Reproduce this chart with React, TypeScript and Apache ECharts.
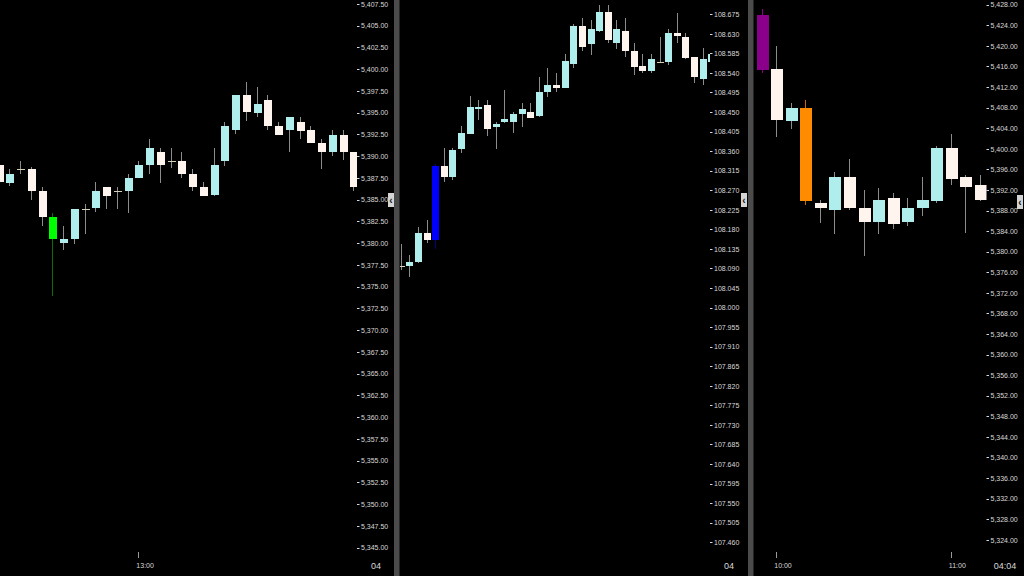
import React, { useEffect, useRef } from "react";
import * as echarts from "echarts";

// ---------------- DATA ----------------
// Panel 1 (2-minute bars)
const p1Times = [
  "12:34", "12:36", "12:38", "12:40", "12:42", "12:44", "12:46", "12:48", "12:50", "12:52",
  "12:54", "12:56", "12:58", "13:00", "13:02", "13:04", "13:06", "13:08", "13:10", "13:12",
  "13:14", "13:16", "13:18", "13:20", "13:22", "13:24", "13:26", "13:28", "13:30", "13:32",
  "13:34", "13:36", "13:38", "13:40",
];
// [open, close, low, high]
const p1Candles = [
  [5389.0, 5387.0, 5386.75, 5389.25],
  [5387.0, 5388.0, 5386.5, 5388.5],
  [5388.5, 5388.5, 5388.0, 5389.5],
  [5388.5, 5386.0, 5385.0, 5388.75],
  [5386.0, 5383.0, 5382.0, 5386.5],
  [5383.0, 5380.5, 5374.0, 5383.5],
  [5380.0, 5380.5, 5379.25, 5382.0],
  [5380.5, 5384.0, 5380.0, 5384.0],
  [5384.0, 5384.0, 5381.0, 5384.5],
  [5384.0, 5386.0, 5383.5, 5387.0],
  [5386.5, 5385.5, 5384.0, 5386.5],
  [5386.0, 5386.0, 5384.0, 5386.5],
  [5386.0, 5387.5, 5383.5, 5388.0],
  [5387.5, 5389.0, 5387.5, 5389.5],
  [5389.0, 5391.0, 5388.0, 5392.0],
  [5390.5, 5389.0, 5387.0, 5391.0],
  [5389.5, 5389.5, 5388.75, 5391.0],
  [5389.5, 5388.0, 5387.5, 5390.5],
  [5388.0, 5386.5, 5386.0, 5388.5],
  [5386.5, 5385.5, 5385.5, 5387.0],
  [5385.5, 5389.0, 5385.5, 5391.0],
  [5389.5, 5393.5, 5389.0, 5394.0],
  [5393.0, 5397.0, 5392.5, 5397.0],
  [5397.0, 5395.0, 5394.0, 5398.5],
  [5395.0, 5396.0, 5394.5, 5398.0],
  [5396.5, 5393.5, 5393.0, 5397.0],
  [5393.5, 5392.5, 5392.5, 5394.0],
  [5393.0, 5394.5, 5390.5, 5394.5],
  [5394.0, 5393.0, 5392.0, 5394.5],
  [5393.0, 5391.5, 5391.5, 5393.5],
  [5391.5, 5390.5, 5388.5, 5392.0],
  [5390.5, 5392.5, 5390.0, 5393.0],
  [5392.5, 5390.5, 5389.5, 5393.0],
  [5390.5, 5386.5, 5386.0, 5390.5],
];
const p1Price = 5390;
const p1Ticks = [
  5345, 5347.5, 5350, 5352.5, 5355, 5357.5, 5360, 5362.5, 5365, 5367.5, 5370, 5372.5, 5375,
  5377.5, 5380, 5382.5, 5385, 5387.5, 5390, 5392.5, 5395, 5397.5, 5400, 5402.5, 5405, 5407.5,
];

// Panel 2 (1-minute bars)
const p2Times = [
  "03:20", "03:21", "03:22", "03:23", "03:24", "03:25", "03:26", "03:27", "03:28", "03:29",
  "03:30", "03:31", "03:32", "03:33", "03:34", "03:35", "03:36", "03:37", "03:38", "03:39",
  "03:40", "03:41", "03:42", "03:43", "03:44", "03:45", "03:46", "03:47", "03:48", "03:49",
  "03:50", "03:51", "03:52", "03:53", "03:54", "03:55", "03:56",
];
const p2Candles = [
  [108.096, 108.096, 108.087, 108.147],
  [108.096, 108.105, 108.071, 108.121],
  [108.105, 108.172, 108.103, 108.186],
  [108.172, 108.156, 108.149, 108.202],
  [108.156, 108.326, 108.135, 108.331],
  [108.326, 108.301, 108.29, 108.368],
  [108.301, 108.363, 108.294, 108.368],
  [108.365, 108.402, 108.356, 108.418],
  [108.4, 108.462, 108.4, 108.487],
  [108.458, 108.462, 108.432, 108.478],
  [108.467, 108.411, 108.395, 108.478],
  [108.416, 108.423, 108.365, 108.428],
  [108.428, 108.434, 108.425, 108.501],
  [108.428, 108.446, 108.402, 108.451],
  [108.446, 108.458, 108.416, 108.471],
  [108.451, 108.437, 108.437, 108.471],
  [108.441, 108.497, 108.44, 108.531],
  [108.497, 108.513, 108.485, 108.552],
  [108.513, 108.506, 108.497, 108.54],
  [108.506, 108.568, 108.505, 108.584],
  [108.561, 108.649, 108.552, 108.653],
  [108.649, 108.6, 108.591, 108.667],
  [108.607, 108.642, 108.582, 108.662],
  [108.637, 108.681, 108.636, 108.697],
  [108.681, 108.616, 108.609, 108.697],
  [108.609, 108.642, 108.596, 108.662],
  [108.637, 108.591, 108.577, 108.667],
  [108.591, 108.554, 108.536, 108.609],
  [108.556, 108.545, 108.54, 108.584],
  [108.545, 108.573, 108.54, 108.584],
  [108.566, 108.566, 108.565, 108.623],
  [108.566, 108.632, 108.559, 108.642],
  [108.632, 108.626, 108.609, 108.678],
  [108.623, 108.575, 108.573, 108.632],
  [108.577, 108.531, 108.517, 108.577],
  [108.527, 108.573, 108.513, 108.598],
  [108.566, 108.584, 108.566, 108.589],
];
const p2Ticks = [
  107.46, 107.505, 107.55, 107.595, 107.64, 107.685, 107.73, 107.775, 107.82, 107.865,
  107.91, 107.955, 108.0, 108.045, 108.09, 108.135, 108.18, 108.225, 108.27, 108.315,
  108.36, 108.405, 108.45, 108.495, 108.54, 108.585, 108.63, 108.675,
];

// Panel 3 (5-minute bars)
const p3Times = [
  "09:55", "10:00", "10:05", "10:10", "10:15", "10:20", "10:25", "10:30",
  "10:35", "10:40", "10:45", "10:50", "10:55", "11:00", "11:05", "11:10",
];
const p3Candles = [
  [5426.0, 5415.25, 5414.75, 5427.25],
  [5415.5, 5405.5, 5402.25, 5420.0],
  [5405.5, 5408.0, 5404.0, 5409.0],
  [5408.0, 5390.0, 5389.0, 5409.5],
  [5389.5, 5388.5, 5385.5, 5390.0],
  [5388.0, 5394.5, 5383.5, 5395.5],
  [5394.5, 5388.5, 5388.0, 5398.0],
  [5388.5, 5385.75, 5379.25, 5392.0],
  [5385.75, 5390.0, 5383.5, 5392.5],
  [5390.5, 5385.5, 5384.5, 5391.5],
  [5385.75, 5388.5, 5385.0, 5390.5],
  [5388.5, 5390.0, 5387.0, 5394.5],
  [5390.0, 5400.25, 5389.5, 5400.5],
  [5400.25, 5394.25, 5393.0, 5403.0],
  [5394.5, 5392.5, 5383.75, 5395.0],
  [5393.0, 5390.0, 5390.0, 5395.0],
];
const p3Price = 5390;
const p3Ticks = [
  5324, 5328, 5332, 5336, 5340, 5344, 5348, 5352, 5356, 5360, 5364, 5368, 5372, 5376,
  5380, 5384, 5388, 5392, 5396, 5400, 5404, 5408, 5412, 5416, 5420, 5424, 5428,
];

// Date markers at bottom-right of each panel
const dateLabels = ["04", "04", "04:04"];

// ---------------- STYLE ----------------
const FONT = "'Liberation Sans', Arial, sans-serif";
const LABEL = "#d8d8d8";
const UP = "#b0eeee";
const DOWN = "#fff4ee";
const DOJI = "#d6d0b4";
const WICK = "#8c8c8c";
const PRICE_BG = "#db5309";
const AXIS_FS = 7;

type Special = { index: number; body: string; wick: string };
const specials1: Special[] = [{ index: 5, body: "#00ff00", wick: "#0b6e0b" }];
const specials2: Special[] = [{ index: 4, body: "#0000ff", wick: "#000080" }];
const specials3: Special[] = [
  { index: 0, body: "#8b008b", wick: "#8b008b" },
  { index: 3, body: "#ff8c00", wick: "#c86a00" },
];

const fmt2 = (v: number) => {
  const s = v.toFixed(2);
  const [a, b] = s.split(".");
  return a.replace(/\B(?=(\d{3})+(?!\d))/g, ",") + "." + b;
};
const fmt3 = (v: number) => v.toFixed(3);

const hourIdx = (times: string[]) =>
  times.map((t, i) => (t.endsWith(":00") ? i : -1)).filter((i) => i >= 0);

const toData = (c: number[][]) => c.map((d, i) => [i, d[0], d[1], d[2], d[3]]);

function makeRenderItem(ratio: number, specials: Special[]) {
  return (params: any, api: any) => {
    const i = api.value(0);
    const o = api.value(1);
    const c = api.value(2);
    const lo = api.value(3);
    const hi = api.value(4);
    const pO = api.coord([i, o]);
    const pC = api.coord([i, c]);
    const pL = api.coord([i, lo]);
    const pH = api.coord([i, hi]);
    const bw = Math.max(1, Math.round(api.size([1, 0])[0] * ratio));
    const cx = Math.round(pO[0]);
    const sp = specials.find((s) => s.index === params.dataIndex);
    const bodyColor = sp ? sp.body : c > o ? UP : c < o ? DOWN : DOJI;
    const wickColor = sp ? sp.wick : WICK;
    const cs = params.coordSys;
    const area = { x: cs.x, y: cs.y, width: cs.width, height: cs.height };
    const top = Math.round(Math.min(pO[1], pC[1]));
    const h = Math.max(1, Math.round(Math.abs(pO[1] - pC[1])));
    const body = echarts.graphic.clipRectByRect(
      { x: cx - Math.floor((bw - 1) / 2), y: top, width: bw, height: h },
      area
    );
    const wick = echarts.graphic.clipRectByRect(
      { x: cx, y: Math.round(pH[1]), width: 1, height: Math.max(1, Math.round(pL[1] - pH[1])) },
      area
    );
    const children: any[] = [];
    if (wick) children.push({ type: "rect", shape: wick, style: { fill: wickColor } });
    if (body) children.push({ type: "rect", shape: body, style: { fill: bodyColor } });
    return { type: "group", children };
  };
}

function priceLine(price: number, padding: number[]) {
  return {
    silent: true,
    symbol: "none",
    lineStyle: { opacity: 0 },
    label: {
      show: true,
      position: "end",
      distance: 0,
      formatter: () => fmt2(price),
      color: "#ffffff",
      backgroundColor: PRICE_BG,
      padding,
      fontSize: AXIS_FS,
      fontFamily: FONT,
    },
    data: [{ yAxis: price }],
  };
}

function yAxis(gridIndex: number, min: number, max: number, ticks: number[], fmt: (v: number) => string) {
  return {
    type: "value",
    gridIndex,
    position: "right",
    min,
    max,
    splitLine: { show: false },
    axisLine: { show: false, onZero: false },
    axisTick: { show: true, customValues: ticks, length: 2.5, lineStyle: { color: LABEL } },
    axisLabel: {
      show: true,
      customValues: ticks,
      formatter: fmt,
      margin: 4,
      color: LABEL,
      fontSize: AXIS_FS,
      fontFamily: FONT,
    },
  };
}

function xAxis(gridIndex: number, min: number, max: number, times: string[]) {
  const idx = hourIdx(times);
  return {
    type: "value",
    gridIndex,
    position: "bottom",
    min,
    max,
    splitLine: { show: false },
    axisLine: { show: false, onZero: false },
    axisTick: { show: idx.length > 0, customValues: idx, length: 6, lineStyle: { color: "#9a9a9a" } },
    axisLabel: {
      show: idx.length > 0,
      customValues: idx,
      formatter: (v: number) => times[Math.round(v)] || "",
      align: "left",
      margin: 10,
      color: LABEL,
      fontSize: 7,
      fontFamily: FONT,
      padding: [0, 0, 0, -2],
    },
  };
}

function chevron(x: number, y: number) {
  return {
    type: "group",
    x,
    y,
    children: [
      { type: "rect", shape: { x: 0, y: 0, width: 6, height: 14 }, style: { fill: "#d4d4d4" } },
      {
        type: "text",
        x: 3,
        y: 7,
        style: { text: "‹", fill: "#111", font: "bold 10px " + FONT, align: "center", verticalAlign: "middle" },
      },
    ],
  };
}

export default function App() {
  const ref = useRef<HTMLDivElement>(null);
  useEffect(() => {
    document.body.style.margin = "0";
    document.body.style.background = "#000";
    const chart = echarts.init(ref.current!, null, { renderer: "svg" });
    const option: any = {
      animation: false,
      backgroundColor: "#000000",
      grid: [
        { left: 0, top: 0, width: 357, height: 552 },
        { left: 400, top: 0, width: 310, height: 552 },
        { left: 754, top: 0, width: 232.5, height: 552 },
      ],
      xAxis: [
        xAxis(0, 0.13, 33.34, p1Times),
        xAxis(1, -0.081, 35.84, p2Times),
        xAxis(2, -0.529, 15.45, p3Times),
      ],
      yAxis: [
        yAxis(0, 5344.54, 5407.96, p1Ticks, fmt2),
        yAxis(1, 107.4381, 108.7084, p2Ticks, fmt3),
        yAxis(2, 5321.67, 5428.97, p3Ticks, fmt2),
      ],
      series: [
        {
          type: "custom",
          xAxisIndex: 0,
          yAxisIndex: 0,
          clip: false,
          renderItem: makeRenderItem(0.77, specials1),
          encode: { x: 0, y: [1, 2, 3, 4] },
          data: toData(p1Candles),
          markLine: priceLine(p1Price, [4, 8, 3, 3]),
        },
        {
          type: "custom",
          xAxisIndex: 1,
          yAxisIndex: 1,
          clip: false,
          renderItem: makeRenderItem(0.85, specials2),
          encode: { x: 0, y: [1, 2, 3, 4] },
          data: toData(p2Candles),
        },
        {
          type: "custom",
          xAxisIndex: 2,
          yAxisIndex: 2,
          clip: false,
          renderItem: makeRenderItem(0.8, specials3),
          encode: { x: 0, y: [1, 2, 3, 4] },
          data: toData(p3Candles),
          markLine: priceLine(p3Price, [4, 2, 3, 2]),
        },
      ],
      graphic: [
        { type: "rect", shape: { x: 394, y: 0, width: 5.5, height: 576 }, style: { fill: "#4b4b4b" }, z: 50 },
        { type: "rect", shape: { x: 748, y: 0, width: 5.5, height: 576 }, style: { fill: "#4b4b4b" }, z: 50 },
        { ...chevron(388, 193), z: 60 },
        { ...chevron(741, 193), z: 60 },
        { ...chevron(1017, 195), z: 60 },
        {
          type: "text",
          x: 376,
          y: 566,
          z: 60,
          style: { text: dateLabels[0], fill: LABEL, font: "9px " + FONT, align: "center", verticalAlign: "middle" },
        },
        {
          type: "text",
          x: 729,
          y: 566,
          z: 60,
          style: { text: dateLabels[1], fill: LABEL, font: "9px " + FONT, align: "center", verticalAlign: "middle" },
        },
        {
          type: "text",
          x: 1005,
          y: 566,
          z: 60,
          style: { text: dateLabels[2], fill: LABEL, font: "9px " + FONT, align: "center", verticalAlign: "middle" },
        },
      ],
    };
    chart.setOption(option);
    return () => chart.dispose();
  }, []);
  return <div ref={ref} style={{ width: 1024, height: 576, background: "#000" }} />;
}
